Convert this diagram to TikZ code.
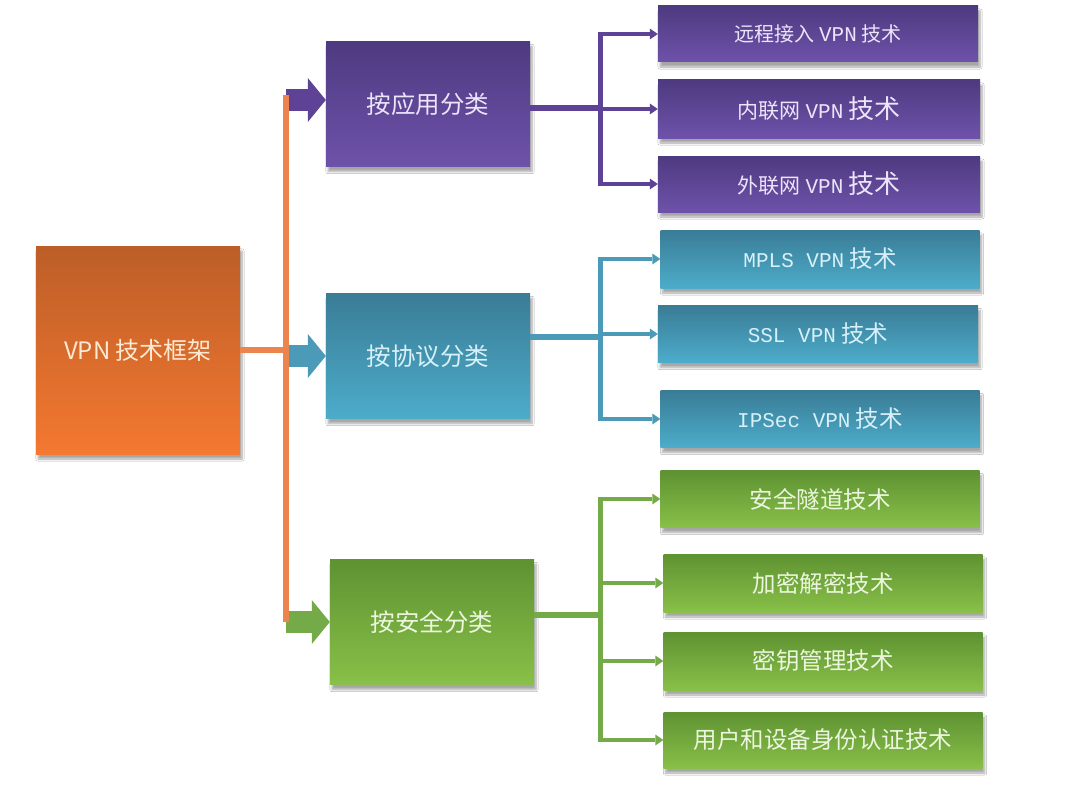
\documentclass[tikz,border=0pt]{standalone}
\usepackage{fontspec}
\setmainfont{Noto Sans CJK SC}
\newfontfamily\latinmono{Liberation Mono}
\usepackage{xcolor}
\usepackage{tikz}
\usetikzlibrary{arrows.meta,shadows.blur}
\definecolor{orangetop}{RGB}{188, 94, 40}
\definecolor{orangebot}{RGB}{244, 120, 48}
\definecolor{orangeline}{RGB}{236, 132, 78}
\definecolor{roottext}{RGB}{252, 234, 212}
\definecolor{purpletop}{RGB}{78, 58, 128}
\definecolor{purplebot}{RGB}{110, 82, 170}
\definecolor{purpleline}{RGB}{94, 66, 150}
\definecolor{purpletext}{RGB}{236, 228, 250}
\definecolor{bluetop}{RGB}{58, 124, 150}
\definecolor{bluebot}{RGB}{76, 172, 202}
\definecolor{blueline}{RGB}{74, 154, 184}
\definecolor{bluetext}{RGB}{216, 240, 248}
\definecolor{greentop}{RGB}{94, 146, 50}
\definecolor{greenbot}{RGB}{136, 192, 72}
\definecolor{greenline}{RGB}{116, 170, 72}
\definecolor{greentext}{RGB}{236, 246, 222}

\begin{document}
\begin{tikzpicture}[
  x=1pt, y=-1pt,
  box/.style={rectangle, inner sep=0pt, align=center,
    blur shadow={shadow xshift=2pt, shadow yshift=-5pt, shadow opacity=35, shadow blur steps=6}},
  rootbox/.style={box, minimum width=204pt, minimum height=208pt,
    top color=orangetop, bottom color=orangebot, text=roottext,
    font=\fontsize{24}{28}\selectfont},
  catbox/.style={box, minimum width=204pt, minimum height=125pt,
    font=\fontsize{24.5}{28}\selectfont},
  leafbox/.style={box, minimum width=320pt, minimum height=57pt,
    font=\fontsize{23.5}{26}\selectfont},
  purplebox/.style={top color=purpletop, bottom color=purplebot, text=purpletext},
  bluebox/.style={top color=bluetop, bottom color=bluebot, text=bluetext},
  greenbox/.style={top color=greentop, bottom color=greenbot, text=greentext},
  catarrow/.style={line width=22pt, -{Triangle[length=18pt, width=44pt, line width=0pt]}},
  forkline/.style={line width=5pt},
  leafarrow/.style={line width=4pt, -{Triangle[length=8pt, width=11pt, line width=0pt]}}
]
  \fill[white] (0,0) rectangle (1080,800);
  \useasboundingbox (0,0) rectangle (1080,800);

  % root and categories
  \node[rootbox] (root) at (138,350) {VPN 技术框架};
  \node[catbox, purplebox] (app) at (428,104) {按应用分类};
  \node[catbox, bluebox] (proto) at (428,356) {按协议分类};
  \node[catbox, greenbox] (sec) at (432,622) {按安全分类};

  % leaves
  \node[leafbox, purplebox, minimum width=320pt, minimum height=56pt] (a1) at (818,34)
    {\fontsize{20}{24}\selectfont 远程接入 {\latinmono\fontsize{21}{24}\selectfont VPN} 技术};
  \node[leafbox, purplebox, minimum width=322pt, minimum height=58pt] (a2) at (819,109)
    {\fontsize{21}{24}\selectfont 内联网 {\latinmono VPN} {\fontsize{26}{28}\selectfont 技术}};
  \node[leafbox, purplebox, minimum width=322pt, minimum height=56pt] (a3) at (819,184)
    {\fontsize{21}{24}\selectfont 外联网 {\latinmono VPN} {\fontsize{26}{28}\selectfont 技术}};

  \node[leafbox, bluebox, minimum width=319pt, minimum height=58pt] (p1) at (820,259)
    {{\latinmono\fontsize{21}{24}\selectfont MPLS VPN} 技术};
  \node[leafbox, bluebox] (p2) at (818,334) {{\latinmono\fontsize{21}{24}\selectfont SSL VPN} 技术};
  \node[leafbox, bluebox, minimum width=319pt] (p3) at (820,419)
    {{\latinmono\fontsize{21}{24}\selectfont IPSec VPN} 技术};

  \node[leafbox, greenbox, minimum width=319pt] (s1) at (820,499) {安全隧道技术};
  \node[leafbox, greenbox, minimum width=319pt, minimum height=58pt] (s2) at (823,583) {加密解密技术};
  \node[leafbox, greenbox, minimum width=319pt, minimum height=58pt] (s3) at (823,661) {密钥管理技术};
  \node[leafbox, greenbox, minimum width=319pt, minimum height=56pt] (s4) at (823,740) {用户和设备身份认证技术};

  % trunk from the root
  \coordinate (trunk) at (286,350);
  \coordinate (ttop) at (286,95);
  \coordinate (tbot) at (286,622);
  \draw[catarrow, purpleline] (trunk |- 0,100) -- (app.west |- 0,100);
  \draw[catarrow, blueline] (trunk |- proto.west) -- (proto.west);
  \draw[catarrow, greenline] (trunk |- sec.west) -- (sec.west);
  \draw[orangeline, line width=6pt] (root.east) -- (trunk);
  \draw[orangeline, line width=6pt] (ttop) -- (tbot);

  % forks to the leaves
  \coordinate (fork) at (600,0);
  \draw[purpleline, line width=6pt] (app.east |- 0,108) -- (fork |- 0,108);
  \draw[purpleline, forkline] ([yshift=2pt]fork |- a1.west) -- ([yshift=-2pt]fork |- a3.west);
  \foreach \n in {a1,a2,a3}
    \draw[leafarrow, purpleline] ([xshift=-2pt]fork |- \n.west) -- (\n.west);

  \draw[blueline, line width=6pt] (proto.east |- 0,337) -- (fork |- 0,337);
  \draw[blueline, forkline] ([yshift=2pt]fork |- p1.west) -- ([yshift=-2pt]fork |- p3.west);
  \foreach \n in {p1,p2,p3}
    \draw[leafarrow, blueline] ([xshift=-2pt]fork |- \n.west) -- (\n.west);

  \draw[greenline, line width=6pt] (sec.east |- 0,615) -- (fork |- 0,615);
  \draw[greenline, forkline] ([yshift=2pt]fork |- s1.west) -- ([yshift=-2pt]fork |- s4.west);
  \foreach \n in {s1,s2,s3,s4}
    \draw[leafarrow, greenline] ([xshift=-2pt]fork |- \n.west) -- (\n.west);
\end{tikzpicture}
\end{document}
